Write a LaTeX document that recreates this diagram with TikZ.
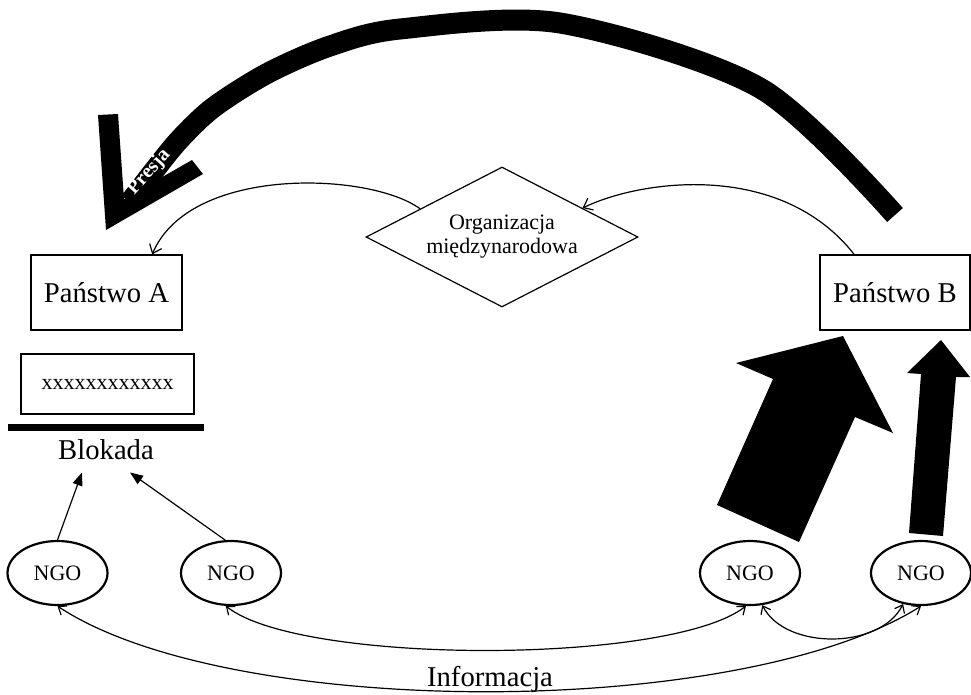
\documentclass[tikz,border=0pt]{standalone}
\usepackage{fontspec}
\setmainfont{Liberation Serif}
\usetikzlibrary{arrows.meta,shapes.geometric,calc}
\begin{document}
\begin{tikzpicture}[x=1pt,y=-1pt,
  bigfont/.style={font=\fontsize{28.7}{34}\selectfont},
  box/.style={draw,line width=1.3pt,inner sep=0pt,bigfont},
  ngo/.style={draw,ellipse,line width=2.2pt,minimum width=100pt,minimum height=64pt,inner sep=0pt,font=\fontsize{22}{26}\selectfont},
  conn/.style={line width=1.2pt},
  barb/.style={-{Straight Barb[length=8pt,width=13pt]}},
  dbarb/.style={{Straight Barb[length=7pt,width=11pt]}-{Straight Barb[length=7pt,width=11pt]}},
  tri/.style={-{Triangle[length=13pt,width=10pt]}}
]
\useasboundingbox (0,0) rectangle (971,694);

% nodes
\node[box,minimum width=151pt,minimum height=75pt] (pa) at (106.5,292.5) {Państwo A};
\node[box,minimum width=150pt,minimum height=75pt] (pb) at (895,292.5) {Państwo B};
\node[box,minimum width=173pt,minimum height=60pt,font=\fontsize{22}{26}\selectfont] (xx) at (107.5,384) {xxxxxxxxxxxx};
\node[fill,minimum width=196pt,minimum height=7pt,inner sep=0pt] (bar) at (106,427.5) {};
\node[anchor=base,bigfont,inner sep=13pt] (blok) at (106,459) {Blokada};
\node[draw,diamond,line width=1.2pt,minimum width=272pt,minimum height=140pt,shape aspect=1.94,inner sep=0pt,align=center,font=\fontsize{22}{24}\selectfont] (org) at (502,237) {Organizacja\\międzynarodowa};

\node[ngo] (ngo1) at (57.5,573) {NGO};
\node[ngo] (ngo2) at (231,573) {NGO};
\node[ngo] (ngo3) at (750,573) {NGO};
\node[ngo] (ngo4) at (921,573) {NGO};

\node[anchor=base,bigfont] (info) at (490,686) {Informacja};

% thin curved arrows on top
\draw[conn,barb] ($(pb.north west)!0.23!(pb.north east)$) .. controls (780,160) and (640,180) .. ($(org.north)!0.59!(org.east)$);
\draw[conn,barb] ($(org.north)!0.6!(org.west)$) .. controls (370,172) and (190,165) .. ($(pa.north west)!0.8!(pa.north east)$);

% NGO -> Blokada
\draw[conn,tri] (ngo1.north) -- ($(blok.south)+(-24,0)$);
\draw[conn,tri] (ngo2.100) -- ($(blok.south)+(24,0)$);

% Informacja arcs
\draw[conn,dbarb] (ngo1.south) .. controls (230,720) and (740,720) .. (ngo4.south);
\draw[conn,dbarb] (ngo2.261) .. controls (300,665) and (670,665) .. (ngo3.263);
\draw[conn,dbarb] (ngo3.291) .. controls (785,650) and (880,650) .. (ngo4.240);

% block arrows towards Panstwo B
\fill (717,505) -- (799,542) -- (855,417) -- (893,433) -- (843,336) -- (736,363) -- (773,379) -- cycle;
\fill (909,533) -- (943,536) -- (956,377) -- (970,377) -- (941,340) -- (907,373) -- (921,374) -- cycle;

% Presja
\draw[line width=21pt] plot[smooth] coordinates {(895,215) (760,88) (560,23) (400,29) (330,46) (268,73) (214,107) (180,139) (153,172) (130,202)};
\fill (106,230) -- (98,115) -- (118,114) -- (124,199) -- (192,160) -- (203,174) -- cycle;
\node[text=white,font=\bfseries\fontsize{20}{24}\selectfont,rotate=48,inner sep=0pt] (presja) at (149,172) {Presja};
\end{tikzpicture}
\end{document}
